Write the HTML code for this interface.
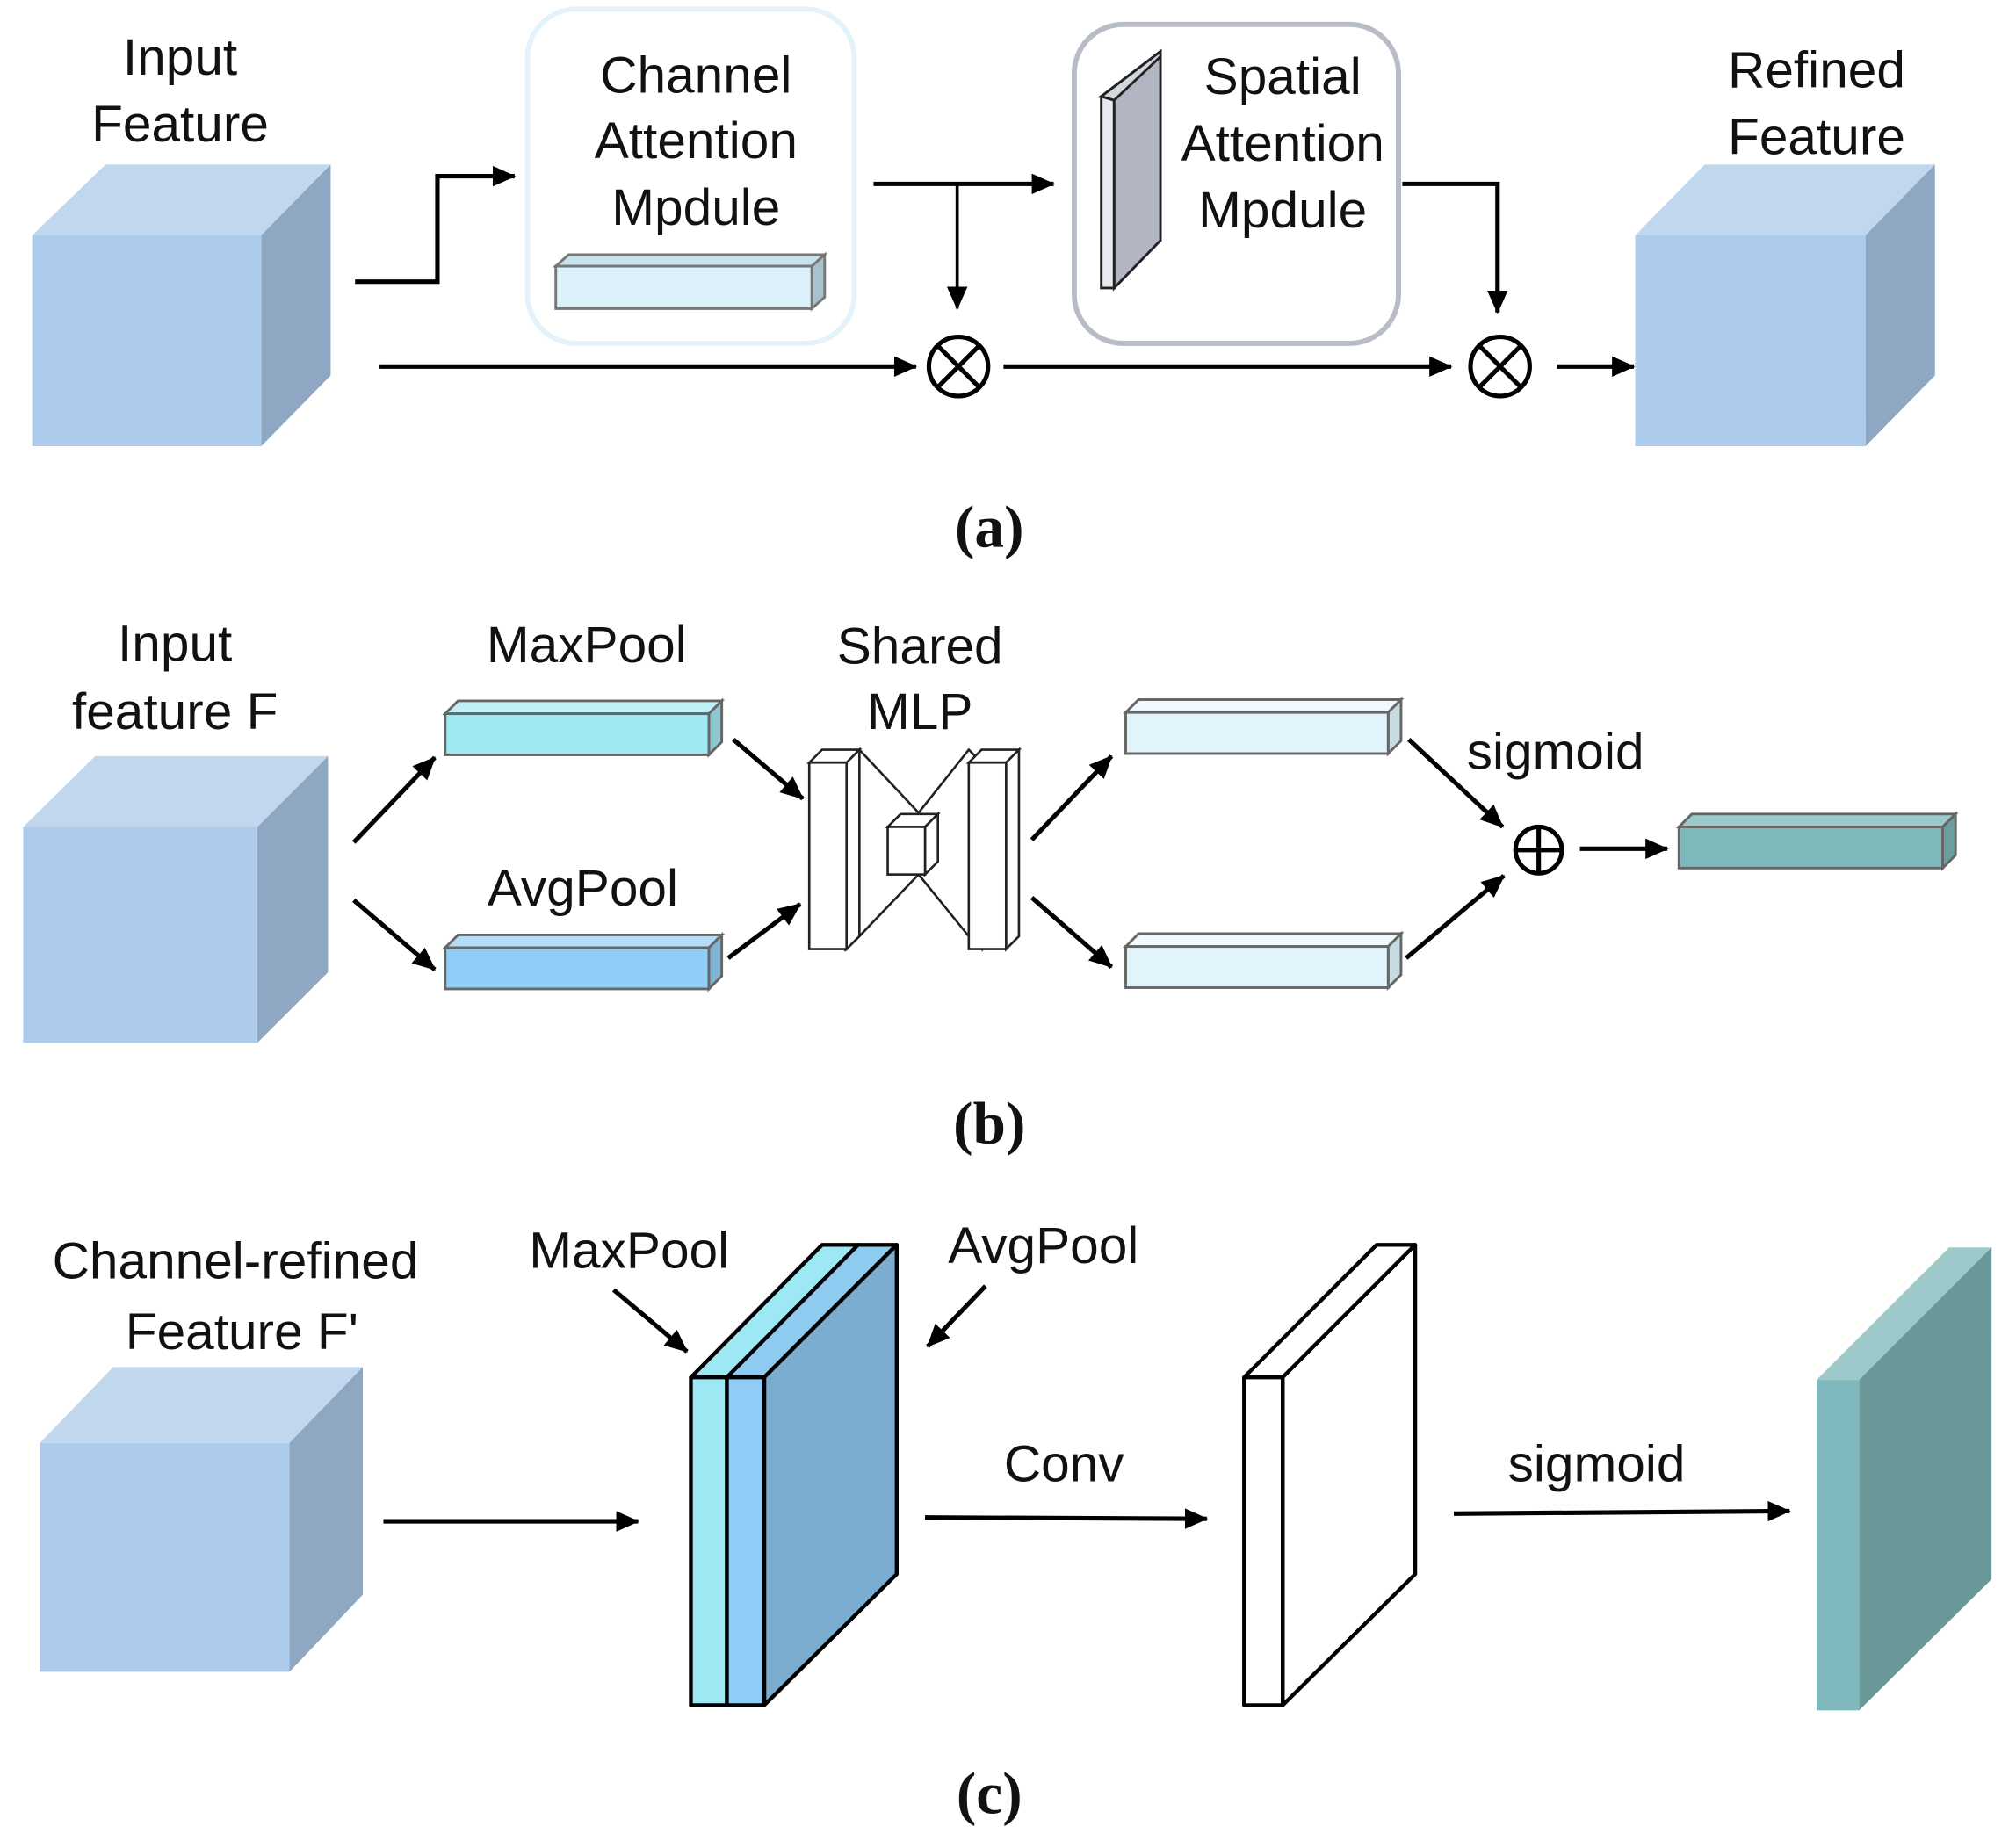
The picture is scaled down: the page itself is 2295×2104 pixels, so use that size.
<!DOCTYPE html>
<html><head><meta charset="utf-8"><style>
html,body{margin:0;padding:0;background:#fff;}
svg{display:block;}
text{font-family:"Liberation Sans",Arial,sans-serif;fill:#111;}
.cap{font-family:"Liberation Serif",serif;font-weight:bold;}
</style></head><body>
<svg width="2295" height="2104" viewBox="0 0 1567 1437" preserveAspectRatio="none" xmlns="http://www.w3.org/2000/svg">
<defs>
<marker id="ah2" markerWidth="18" markerHeight="16" refX="17" refY="8" orient="auto" markerUnits="userSpaceOnUse" viewBox="0 0 18 16"><path d="M0,0 L18,8 L0,16 z" fill="#000"/></marker>
</defs>
<g stroke="#000" stroke-width="3.5" fill="none">
<path d="M276,219 H340 V137 H400" marker-end="url(#ah2)"/>
<path d="M295,285 H712" marker-end="url(#ah2)"/>
<path d="M780,285 H1128" marker-end="url(#ah2)"/>
<path d="M1210,285 H1270" marker-end="url(#ah2)"/>
<path d="M679,143 H819" marker-end="url(#ah2)"/>
<path d="M744,143 V240" stroke-width="2.5" marker-end="url(#ah2)"/>
<path d="M1090,143 H1164 V243" marker-end="url(#ah2)"/>
<path d="M275,655 L338,589" marker-end="url(#ah2)"/>
<path d="M275,700 L338,754" marker-end="url(#ah2)"/>
<path d="M570,575 L624,621" marker-end="url(#ah2)"/>
<path d="M566,745 L622,703" marker-end="url(#ah2)"/>
<path d="M802,653 L864,588" marker-end="url(#ah2)"/>
<path d="M802,698 L864,752" marker-end="url(#ah2)"/>
<path d="M1095,575 L1168,643" marker-end="url(#ah2)"/>
<path d="M1093,745 L1169,681" marker-end="url(#ah2)"/>
<path d="M1228,660 H1296" marker-end="url(#ah2)"/>
<path d="M477,1003 L534,1051" marker-end="url(#ah2)"/>
<path d="M766,1000 L721,1047" marker-end="url(#ah2)"/>
<path d="M298,1183 H496" marker-end="url(#ah2)"/>
<path d="M719,1180 L938,1181" marker-end="url(#ah2)"/>
<path d="M1130,1177 L1391,1175" marker-end="url(#ah2)"/>
</g>
<rect x="410" y="7" width="254" height="260" rx="38" fill="#fff" stroke="#e3f2fb" stroke-width="4"/>
<rect x="835" y="19" width="252" height="248" rx="38" fill="#fff" stroke="#b7bcc6" stroke-width="4"/>
<g stroke="none">
<polygon points="25,183 82,128 257,128 203,183" fill="#c0d7ee"/>
<polygon points="203,183 257,128 257,292 203,347" fill="#8ea7c2"/>
<rect x="25" y="183" width="178" height="164" fill="#adcbea"/>
<polygon points="1271,183 1325,128 1504,128 1450,183" fill="#c0d7ee"/>
<polygon points="1450,183 1504,128 1504,292 1450,347" fill="#8ea7c2"/>
<rect x="1271" y="183" width="179" height="164" fill="#adcbea"/>
</g>
<g stroke="#777" stroke-width="2">
<polygon points="432,207 442,198 641,198 631,207" fill="#c8e4ef"/>
<polygon points="631,207 641,198 641,231 631,240" fill="#a8c2cc"/>
<rect x="432" y="207" width="199" height="33" fill="#dbf0f9"/>
</g>
<g stroke="#222" stroke-width="2">
<polygon points="856,75 866,75 866,224 856,224" fill="#e8eaef"/>
<polygon points="856,75 902,40 902,187 866,224 866,75" fill="#b1b6c2"/>
<polygon points="856,75 902,40 902,44 866,78" fill="#d3d7de"/>
</g>
<g stroke="#000" stroke-width="3.5" fill="#fff">
<circle cx="745" cy="285" r="23"/>
<circle cx="1166" cy="285" r="23"/>
<path d="M729,269 L761,301 M761,269 L729,301 M1150,269 L1182,301 M1182,269 L1150,301"/>
</g>
<text x="140" y="58" font-size="40" text-anchor="middle">Input</text>
<text x="140" y="110" font-size="40" text-anchor="middle">Feature</text>
<text x="541" y="72" font-size="40" text-anchor="middle">Channel</text>
<text x="541" y="123" font-size="40" text-anchor="middle">Attention</text>
<text x="541" y="175" font-size="40" text-anchor="middle">Mpdule</text>
<text x="997" y="73" font-size="40" text-anchor="middle">Spatial</text>
<text x="997" y="125" font-size="40" text-anchor="middle">Attention</text>
<text x="997" y="177" font-size="40" text-anchor="middle">Mpdule</text>
<text x="1412" y="68" font-size="40" text-anchor="middle">Refined</text>
<text x="1412" y="120" font-size="40" text-anchor="middle">Feature</text>
<text class="cap" x="769" y="425" font-size="46" text-anchor="middle">(a)</text>

<g stroke="none">
<polygon points="18,643 74,588 255,588 200,643" fill="#c0d7ee"/>
<polygon points="200,643 255,588 255,756 200,811" fill="#8ea7c2"/>
<rect x="18" y="643" width="182" height="168" fill="#adcbea"/>
</g>
<g stroke="#666" stroke-width="2">
<polygon points="346,555 356,545 561,545 551,555" fill="#bff0f7"/>
<polygon points="551,555 561,545 561,577 551,587" fill="#8fc8d0"/>
<rect x="346" y="555" width="205" height="32" fill="#9fe9f5"/>
<polygon points="346,737 356,727 561,727 551,737" fill="#b5dcf7"/>
<polygon points="551,737 561,727 561,759 551,769" fill="#7eb5d6"/>
<rect x="346" y="737" width="205" height="32" fill="#90cdf6"/>
<polygon points="875,554 885,544 1089,544 1079,554" fill="#f0f9fd"/>
<polygon points="1079,554 1089,544 1089,576 1079,586" fill="#c8dbe3"/>
<rect x="875" y="554" width="204" height="32" fill="#e2f4fb"/>
<polygon points="875,736 885,726 1089,726 1079,736" fill="#f0f9fd"/>
<polygon points="1079,736 1089,726 1089,758 1079,768" fill="#c8dbe3"/>
<rect x="875" y="736" width="204" height="32" fill="#e2f4fb"/>
<polygon points="1305,643 1315,633 1520,633 1510,643" fill="#9ccaca"/>
<polygon points="1510,643 1520,633 1520,665 1510,675" fill="#6a9fa0"/>
<rect x="1305" y="643" width="205" height="32" fill="#7db8bb"/>
</g>
<g stroke="#222" stroke-width="1.8" fill="#fff">
<polygon points="657,593 668,583 714,632 714,680 668,728 657,738"/>
<polygon points="763,593 753,583 714,632 714,680 753,728 763,738"/>
<polygon points="629,593 639,583 668,583 658,593"/>
<polygon points="658,593 668,583 668,728 658,738"/>
<rect x="629" y="593" width="29" height="145"/>
<polygon points="753,593 763,583 792,583 782,593"/>
<polygon points="782,593 792,583 792,728 782,738"/>
<rect x="753" y="593" width="29" height="145"/>
<polygon points="690,643 700,633 729,633 719,643"/>
<polygon points="719,643 729,633 729,670 719,680"/>
<rect x="690" y="643" width="29" height="37"/>
</g>
<g stroke="#000" stroke-width="3.5" fill="#fff">
<circle cx="1196" cy="661" r="18"/>
<path d="M1178,661 H1214 M1196,643 V679"/>
</g>
<text x="136" y="514" font-size="40" text-anchor="middle">Input</text>
<text x="136" y="567" font-size="40" text-anchor="middle">feature F</text>
<text x="456" y="515" font-size="40" text-anchor="middle">MaxPool</text>
<text x="453" y="704" font-size="40" text-anchor="middle">AvgPool</text>
<text x="715" y="516" font-size="40" text-anchor="middle">Shared</text>
<text x="715" y="567" font-size="40" text-anchor="middle">MLP</text>
<text x="1209" y="598" font-size="40" text-anchor="middle">sigmoid</text>
<text class="cap" x="769" y="889" font-size="46" text-anchor="middle">(b)</text>

<g stroke="none">
<polygon points="31,1122 88,1063 282,1063 225,1122" fill="#c0d7ee"/>
<polygon points="225,1122 282,1063 282,1240 225,1300" fill="#8ea7c2"/>
<rect x="31" y="1122" width="194" height="178" fill="#adcbea"/>
</g>
<g stroke="#000" stroke-width="3" stroke-linejoin="round">
<polygon points="537,1071 639,968 667,968 565,1071" fill="#9ee8f4"/>
<polygon points="565,1071 667,968 697,968 594,1071" fill="#8fcaf0"/>
<polygon points="594,1071 697,968 697,1224 594,1326" fill="#7aaccf"/>
<rect x="537" y="1071" width="28" height="255" fill="#9ee8f4"/>
<rect x="565" y="1071" width="29" height="255" fill="#90cdf6"/>
<polygon points="967,1071 1070,968 1100,968 997,1071" fill="#fff"/>
<polygon points="997,1071 1100,968 1100,1224 997,1326" fill="#fff"/>
<rect x="967" y="1071" width="30" height="255" fill="#fff"/>
</g>
<g stroke="none">
<polygon points="1412,1073 1515,970 1548,970 1445,1073" fill="#9ccaca"/>
<polygon points="1445,1073 1548,970 1548,1228 1445,1330" fill="#6a9898"/>
<rect x="1412" y="1073" width="33" height="257" fill="#7fb9bd"/>
</g>
<text x="183" y="994" font-size="40" text-anchor="middle">Channel-refined</text>
<text x="188" y="1049" font-size="40" text-anchor="middle">Feature F'</text>
<text x="489" y="986" font-size="40" text-anchor="middle">MaxPool</text>
<text x="811" y="982" font-size="40" text-anchor="middle">AvgPool</text>
<text x="827" y="1152" font-size="40" text-anchor="middle">Conv</text>
<text x="1241" y="1152" font-size="40" text-anchor="middle">sigmoid</text>
<text class="cap" x="769" y="1410" font-size="46" text-anchor="middle">(c)</text>
</svg>
</body></html>
